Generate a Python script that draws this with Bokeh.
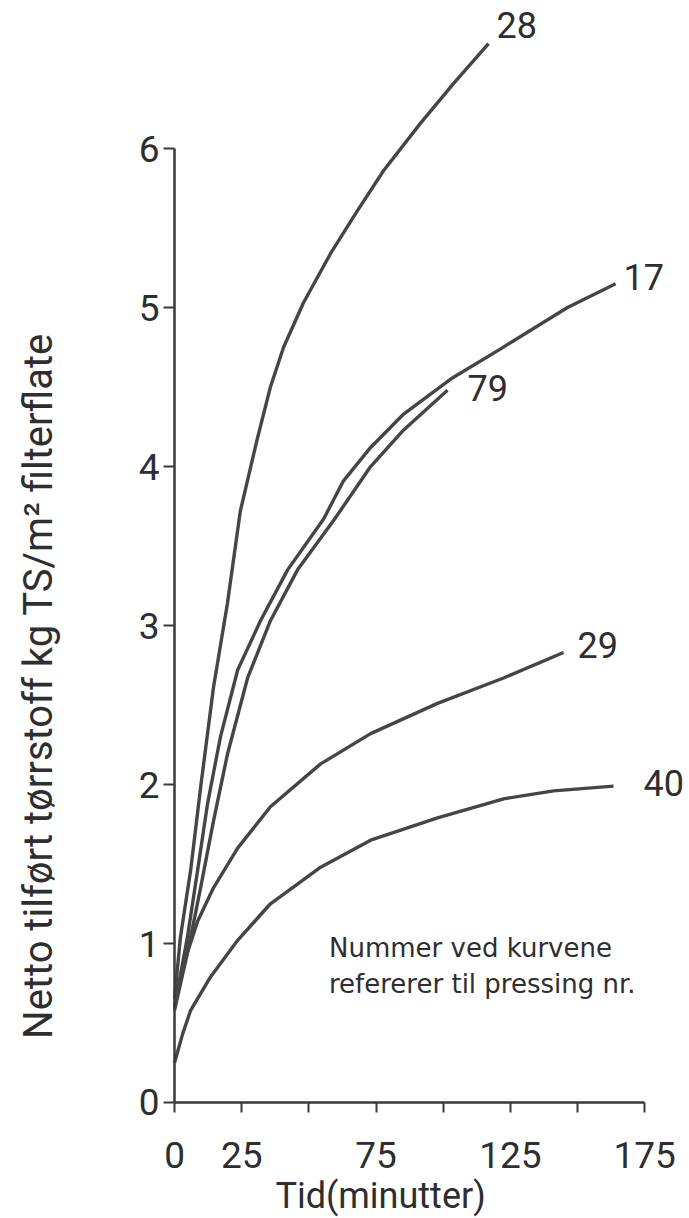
from bokeh.plotting import figure
from bokeh.models import Range1d, FixedTicker, Label
from bokeh.embed import file_html
from bokeh.resources import INLINE

# --- data (time in minutes, kg TS per m2 filter area) ---
curve_ids = ["28", "17", "79", "29", "40"]

t28 = [0, 2.2, 6.0, 9.7, 14.5, 19.7, 24.5, 30.9, 35.7, 40.6, 48.0, 58.1, 68.1, 77.8, 91.6, 103.9, 116.9]
y28 = [0.65, 1.04, 1.46, 1.98, 2.61, 3.14, 3.72, 4.18, 4.50, 4.75, 5.03, 5.34, 5.61, 5.86, 6.16, 6.41, 6.66]

t17 = [0, 4.8, 8.6, 12.3, 17.1, 23.5, 32.0, 42.1, 55.5, 62.9, 73.0, 85.3, 102.8, 121.4, 146.3, 164.2]
y17 = [0.60, 1.04, 1.46, 1.88, 2.30, 2.72, 3.03, 3.35, 3.67, 3.91, 4.12, 4.33, 4.55, 4.74, 5.00, 5.15]

t79 = [0, 4.8, 9.7, 14.5, 19.7, 27.2, 35.7, 45.8, 59.2, 73.0, 85.3, 101.6]
y79 = [0.58, 0.94, 1.35, 1.77, 2.19, 2.67, 3.03, 3.35, 3.66, 4.00, 4.23, 4.48]

t29 = [0, 3.4, 8.6, 14.5, 23.5, 35.7, 54.4, 73.0, 97.9, 122.5, 144.8]
y29 = [0.60, 0.87, 1.14, 1.35, 1.60, 1.86, 2.13, 2.32, 2.51, 2.67, 2.83]

t40 = [0, 3.0, 6.0, 13.4, 23.5, 35.7, 54.4, 73.0, 97.9, 122.5, 141.1, 163.4]
y40 = [0.25, 0.43, 0.58, 0.79, 1.02, 1.25, 1.48, 1.65, 1.79, 1.91, 1.96, 1.99]

x_ticks = [0, 25, 50, 75, 100, 125, 150, 175]
x_tick_labels = ["0", "25", "", "75", "", "125", "", "175"]
y_ticks = [0, 1, 2, 3, 4, 5, 6]

x_title = "Tid(minutter)"
y_title = "Netto tilført tørrstoff kg TS/m² filterflate"
note_lines = ["Nummer ved kurvene", "refererer til pressing nr."]

series = [(t28, y28), (t17, y17), (t79, y79), (t29, y29), (t40, y40)]
# label offsets in screen px relative to curve end
label_offsets = [(8, 19), (8, 7), (20, 2), (14, 8), (30, 3)]

LINE = "#454545"
AXIS = "#3a3a3a"
TEXT = "#2e2e2e"
FONT = "Roboto"

p = figure(width=689, height=1218, output_backend="svg", toolbar_location=None,
           x_range=Range1d(-64.78, 191.7), y_range=Range1d(-0.7296, 6.931),
           min_border_left=0, min_border_right=0, min_border_top=0, min_border_bottom=0)
p.outline_line_color = None
p.grid.visible = False
p.background_fill_color = "white"
p.border_fill_color = "white"

for ax in (p.xaxis[0], p.yaxis[0]):
    ax.fixed_location = 0
    ax.axis_line_width = 2.5
    ax.axis_line_color = AXIS
    ax.major_tick_line_color = AXIS
    ax.major_tick_line_width = 2
    ax.major_tick_in = 0
    ax.minor_tick_line_color = None
    ax.major_label_text_font = FONT
    ax.major_label_text_color = TEXT
    ax.major_label_text_font_size = "37px"

p.xaxis.ticker = FixedTicker(ticks=x_ticks)
p.xaxis.major_label_overrides = {t: l for t, l in zip(x_ticks, x_tick_labels)}
p.xaxis.bounds = (0, 175)
p.xaxis.major_tick_out = 10
p.xaxis.major_label_standoff = 30

p.yaxis.ticker = FixedTicker(ticks=y_ticks)
p.yaxis.bounds = (0, 6)
p.yaxis.major_tick_out = 11
p.yaxis.major_label_standoff = 4

for (tx, ty) in series:
    p.line(tx, ty, line_width=3.4, line_color=LINE, line_join="round")

for cid, (tx, ty), (dx, dy) in zip(curve_ids, series, label_offsets):
    p.add_layout(Label(x=tx[-1], y=ty[-1], x_offset=dx, y_offset=dy, text=cid,
                       text_font=FONT, text_font_size="36px", text_color=TEXT,
                       text_align="left", text_baseline="middle"))

# note
p.add_layout(Label(x=57.5, y=0.969, text=note_lines[0], text_font="DejaVu Sans",
                   text_font_size="26px", text_color=TEXT, text_baseline="alphabetic"))
p.add_layout(Label(x=57.5, y=0.748, text=note_lines[1], text_font="DejaVu Sans",
                   text_font_size="26px", text_color=TEXT, text_baseline="alphabetic"))

# axis titles
p.add_layout(Label(x=76.7, y=-0.585, text=x_title, text_font=FONT, text_font_size="36px",
                   text_color=TEXT, text_align="center", text_baseline="middle"))
p.add_layout(Label(x=-50.6, y=2.62, text=y_title, text_font=FONT, text_font_size="40px",
                   text_color=TEXT, text_align="center", text_baseline="middle",
                   angle=1.5707963))

open("out.html", "w").write(file_html(p, INLINE))
